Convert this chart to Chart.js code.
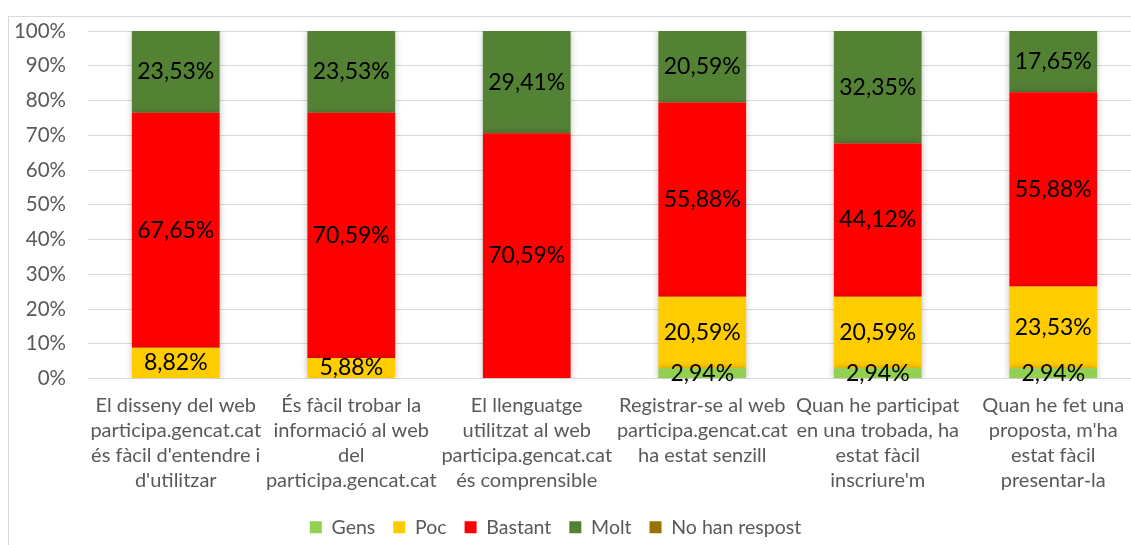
<!DOCTYPE html>
<html>
<head>
<meta charset="utf-8">
<script src="https://cdn.jsdelivr.net/npm/chart.js@4"></script>
<style>
  html, body { margin: 0; padding: 0; background: #fff; overflow: hidden; }
  #wrap { position: absolute; left: 0; top: 0; width: 1168px; height: 545px; }
</style>
</head>
<body>
<div id="wrap"><canvas id="barChart" width="1168" height="545"></canvas></div>
<script>
  const categories = [
      ['El disseny del web', 'participa.gencat.cat', "és fàcil d'entendre i", "d'utilitzar"],
      ['És fàcil trobar la', 'informació al web', 'del', 'participa.gencat.cat'],
      ['El llenguatge', 'utilitzat al web', 'participa.gencat.cat', 'és comprensible'],
      ['Registrar-se al web', 'participa.gencat.cat', 'ha estat senzill'],
      ['Quan he participat', 'en una trobada, ha', 'estat fàcil', "inscriure'm"],
      ['Quan he fet una', "proposta, m'ha", 'estat fàcil', 'presentar-la']
  ];
  const gens = [0, 0, 0, 2.94, 2.94, 2.94];
  const poc = [8.82, 5.88, 0, 20.59, 20.59, 23.53];
  const bastant = [67.65, 70.59, 70.59, 55.88, 44.12, 55.88];
  const molt = [23.53, 23.53, 29.41, 20.59, 32.35, 17.65];
  const noHanRespost = [0, 0, 0, 0, 0, 0];
  const yTicks = [0, 10, 20, 30, 40, 50, 60, 70, 80, 90, 100];

  const tickColor = '#595959';

  // white background and the light frame round the chart
  const framePlugin = {
      id: 'frame',
      beforeDraw(chart) {
          const c = chart.ctx;
          c.save();
          c.fillStyle = '#fff';
          c.fillRect(0, 0, chart.width, chart.height);
          c.strokeStyle = '#d9d9d9';
          c.lineWidth = 1;
          c.strokeRect(8.5, 16.5, 2000, 1000);
          c.restore();
      },
      afterLayout(chart) {
          // legend sits a bit left of the canvas centre
          chart.legend.left -= 19;
          chart.legend.right -= 19;
          chart.legend.top += 2;
          chart.legend.bottom += 2;
      },
      // soft shadow round the bars
      beforeDatasetsDraw(chart) {
          const c = chart.ctx;
          c.shadowColor = 'rgba(0,0,0,0.28)';
          c.shadowBlur = 7;
          c.shadowOffsetX = 0;
          c.shadowOffsetY = 0;
      },
      afterDatasetsDraw(chart) {
          const c = chart.ctx;
          c.shadowColor = 'rgba(0,0,0,0)';
          c.shadowBlur = 0;
      }
  };

  // value labels in the middle of each segment
  const labelPlugin = {
      id: 'segLabels',
      afterDatasetsDraw(chart) {
          const c = chart.ctx;
          c.save();
          c.shadowColor = 'rgba(0,0,0,0)';
          c.shadowBlur = 0;
          c.font = '23px Lato';
          c.fillStyle = '#000';
          c.textAlign = 'center';
          c.textBaseline = 'middle';
          chart.data.datasets.forEach((ds, i) => {
              const meta = chart.getDatasetMeta(i);
              meta.data.forEach((bar, j) => {
                  const v = ds.data[j];
                  if (!v) return;
                  c.fillText(v.toFixed(2).replace('.', ',') + '%', bar.x, (bar.y + bar.base) / 2);
              });
          });
          c.restore();
      }
  };

  const ctx = document.getElementById('barChart').getContext('2d');
  const chart = new Chart(ctx, {
      type: 'bar',
      data: {
          labels: categories,
          datasets: [
              { label: 'Gens', data: gens, backgroundColor: '#92D050' },
              { label: 'Poc', data: poc, backgroundColor: '#FFCC00' },
              { label: 'Bastant', data: bastant, backgroundColor: '#FF0000' },
              { label: 'Molt', data: molt, backgroundColor: '#548235' },
              { label: 'No han respost', data: noHanRespost, backgroundColor: '#997300' }
          ]
      },
      options: {
          responsive: false,
          animation: false,
          devicePixelRatio: 1,
          datasets: { bar: { categoryPercentage: 1, barPercentage: 0.5, borderWidth: 0 } },
          layout: { autoPadding: false, padding: { left: 8, right: 27, top: 31, bottom: 0 } },
          plugins: {
              tooltip: { enabled: false },
              legend: {
                  position: 'bottom',
                  labels: {
                      font: { family: 'Lato', size: 19.5 },
                      color: tickColor,
                      boxWidth: 12,
                      boxHeight: 12,
                      padding: 18
                  }
              }
          },
          scales: {
              x: {
                  stacked: true,
                  grid: { display: false, drawTicks: false },
                  border: { display: false },
                  ticks: { font: { family: 'Lato', size: 20, lineHeight: 1.25 }, color: tickColor, padding: 15, maxRotation: 0, autoSkip: false },
                  afterFit(scale) { scale.height = 119; }
              },
              y: {
                  stacked: true,
                  min: 0,
                  max: 100,
                  afterBuildTicks(scale) { scale.ticks = yTicks.map(v => ({ value: v })); },
                  grid: { color: '#d9d9d9', drawTicks: false },
                  border: { display: false },
                  ticks: { font: { family: 'Lato', size: 20.5 }, color: tickColor, padding: 22, callback: v => v + '%' },
                  afterFit(scale) {
                      scale.width = 80;
                      scale.paddingTop = 0;
                      scale.paddingBottom = 0;
                  }
              }
          }
      },
      plugins: [framePlugin, labelPlugin]
  });
</script>
</body>
</html>
